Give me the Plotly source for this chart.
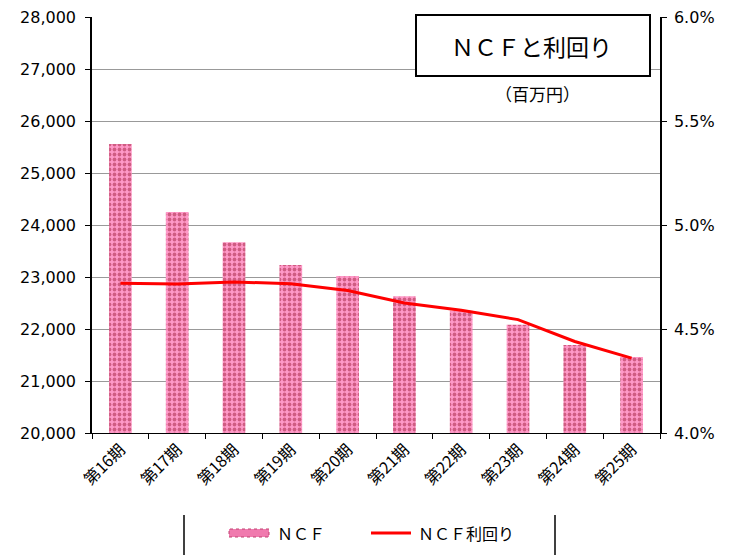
import plotly.graph_objects as go

categories = ["第16期", "第17期", "第18期", "第19期", "第20期", "第21期", "第22期", "第23期", "第24期", "第25期"]
ncf = [25560, 24250, 23670, 23230, 23020, 22630, 22350, 22080, 21690, 21460]
ncf_yield = [4.72, 4.716, 4.726, 4.718, 4.685, 4.625, 4.59, 4.545, 4.44, 4.36]
left_ticks = list(range(20000, 28001, 1000))
right_ticks = [4.0, 4.5, 5.0, 5.5, 6.0]

FONT = "Verdana, DejaVu Sans, Noto Sans CJK JP"
JP = "Noto Sans CJK JP, DejaVu Sans"

# page has ~8px body margin; plot area in window: x 92..660, y 17..433
OFF = 8
L, R, T, B = 92 - OFF, 739 - (660 - OFF), 17 - OFF, 555 - (433 - OFF)
PW, PH = 568, 416


def px2paper(px, py):
    return (px - 92) / PW, (433 - py) / PH


fig = go.Figure()
fig.add_trace(go.Bar(
    x=categories, y=ncf, name="ＮＣＦ",
    marker=dict(color="#FF99C8", line=dict(width=0),
                pattern=dict(shape=".", fgcolor="#A0203C", bgcolor="#FF99C8",
                             size=5, solidity=0.45, fillmode="overlay")),
    width=0.4, showlegend=False,
))
fig.add_trace(go.Scatter(
    x=categories, y=ncf_yield, name="ＮＣＦ利回り", yaxis="y2",
    mode="lines", line=dict(color="#FF0000", width=3), showlegend=False,
))

fig.update_layout(
    width=739, height=555,
    margin=dict(l=L, r=R, t=T, b=B, autoexpand=False),
    plot_bgcolor="white", paper_bgcolor="white",
    font=dict(family=FONT, size=14, color="#000000"),
    bargap=0.6,
    showlegend=False,
    xaxis=dict(
        type="category", tickangle=-45, showline=True, linecolor="#000000", linewidth=1,
        ticks="outside", tickson="boundaries", ticklen=5, tickcolor="#000000",
        tickfont=dict(family=JP, size=16, color="#000000"), showgrid=False, automargin=False,
        ticklabeloverflow="allow",
    ),
    yaxis=dict(
        range=[20000, 28000], tickvals=left_ticks, tickformat=",d",
        showline=True, linecolor="#000000", linewidth=1.5, ticks="outside", ticklen=5,
        tickcolor="#000000", showgrid=True, gridcolor="#999999", gridwidth=1,
        tickfont=dict(family=FONT, size=16), zeroline=False, automargin=False,
        ticklabelstandoff=6, ticklabeloverflow="allow",
    ),
    yaxis2=dict(
        range=[4.0, 6.0], tickvals=right_ticks, overlaying="y", side="right",
        ticktext=[f"{v:.1f}%" for v in right_ticks],
        showline=True, linecolor="#000000", linewidth=1.5, ticks="outside", ticklen=5,
        tickcolor="#000000", showgrid=False, zeroline=False, automargin=False,
        tickfont=dict(family=FONT, size=16), ticklabelstandoff=4, ticklabeloverflow="allow",
    ),
)

# title box
x0, y1 = px2paper(416, 15)
x1, y0 = px2paper(650, 76)
fig.add_shape(type="rect", xref="paper", yref="paper", x0=x0, x1=x1, y0=y0, y1=y1,
              line=dict(color="#000000", width=2), fillcolor="white", layer="above")
tx, ty = px2paper(531, 46)
fig.add_annotation(xref="paper", yref="paper", x=tx, y=ty, xanchor="center", yanchor="middle",
                   text="ＮＣＦと利回り", showarrow=False,
                   font=dict(family=JP, size=23, color="#000000"))
ux, uy = px2paper(537, 93)
fig.add_annotation(xref="paper", yref="paper", x=ux, y=uy, xanchor="center", yanchor="middle",
                   text="（百万円）", showarrow=False,
                   font=dict(family=JP, size=17, color="#000000"))

# legend box sides
for lx in (184, 555):
    a, b0 = px2paper(lx, 515)
    _, b1 = px2paper(lx, 560)
    fig.add_shape(type="line", xref="paper", yref="paper", x0=a, x1=a, y0=b0, y1=b1,
                  line=dict(color="#000000", width=1.5))

# manual legend
_, leg_y = px2paper(0, 533)
fig.add_shape(type="rect", xref="paper", yref="paper",
              x0=px2paper(229, 0)[0], x1=px2paper(269, 0)[0],
              y0=leg_y - 4 / PH, y1=leg_y + 4 / PH,
              line=dict(color="#C04070", width=1, dash="dot"), fillcolor="#F07AAE")
fig.add_annotation(xref="paper", yref="paper", x=px2paper(275, 0)[0], y=leg_y,
                   xanchor="left", yanchor="middle",
                   text="ＮＣＦ", showarrow=False, font=dict(family=JP, size=16, color="#000000"))
fig.add_shape(type="line", xref="paper", yref="paper",
              x0=px2paper(371, 0)[0], x1=px2paper(411, 0)[0], y0=leg_y, y1=leg_y,
              line=dict(color="#FF0000", width=3))
fig.add_annotation(xref="paper", yref="paper", x=px2paper(416, 0)[0], y=leg_y,
                   xanchor="left", yanchor="middle",
                   text="ＮＣＦ利回り", showarrow=False,
                   font=dict(family=JP, size=16, color="#000000"))

fig.write_html("out.html")
